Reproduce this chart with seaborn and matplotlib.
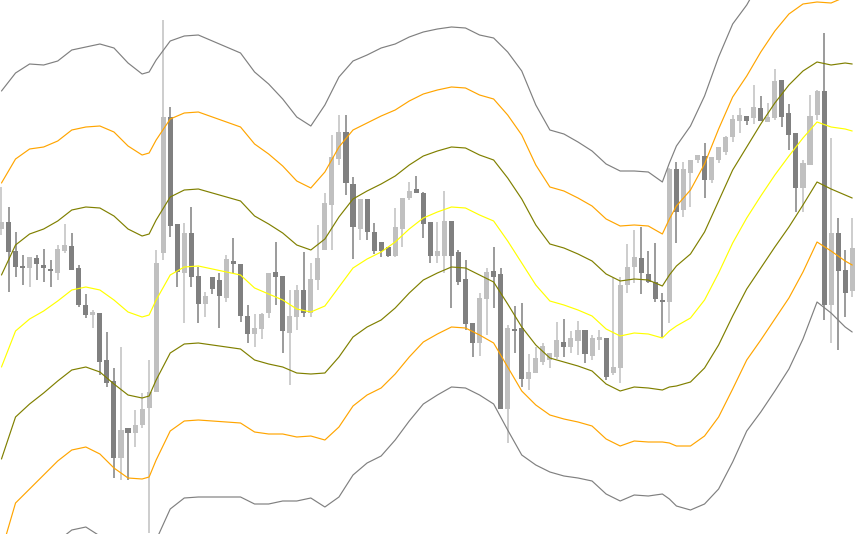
import numpy as np
import pandas as pd
import matplotlib.pyplot as plt
import seaborn as sns

# candle readings (chart units, larger = lower on screen)
opens = [229, 222, 251, 266, 268, 258, 265, 269, 273, 251, 246, 268, 305, 315, 313, 360, 381, 458, 428, 433,
         425, 408, 392, 253, 117, 224, 273, 233, 276, 304, 277, 280, 298, 261, 264, 316, 334, 329, 313, 272,
         276, 333, 317, 290, 313, 280, 250, 205, 159, 132, 184, 229, 199, 232, 242, 247, 256, 229, 198, 189,
         193, 222, 256, 256, 221, 252, 279, 323, 343, 299, 271, 274, 409, 329, 328, 379, 373, 362, 360, 357,
         342, 347, 341, 330, 356, 340, 338, 373, 368, 285, 267, 258, 274, 282, 300, 302, 169, 210, 173, 160,
         156, 180, 160, 152, 137, 121, 116, 118, 108, 122, 118, 80, 113, 133, 188, 165, 115, 91, 305, 233,
         270, 291]
closes = [222, 252, 267, 268, 257, 264, 268, 271, 249, 245, 270, 305, 315, 312, 362, 383, 458, 430, 433, 425,
          409, 392, 263, 117, 226, 272, 233, 277, 304, 296, 289, 296, 259, 264, 316, 334, 328, 314, 273, 277,
          331, 316, 290, 313, 279, 258, 203, 157, 132, 183, 227, 199, 232, 251, 251, 256, 227, 198, 191, 193,
          224, 256, 251, 221, 256, 282, 324, 343, 298, 272, 277, 409, 328, 331, 379, 372, 358, 346, 353, 340,
          347, 338, 330, 354, 338, 337, 377, 367, 285, 267, 257, 273, 282, 299, 302, 169, 212, 169, 160, 155,
          180, 157, 147, 137, 119, 115, 121, 107, 121, 117, 81, 117, 135, 188, 163, 116, 91, 305, 233, 271,
          293, 248]
highs = [187, 207, 232, 255, 257, 255, 249, 260, 245, 224, 233, 265, 294, 310, 313, 332, 368, 347, 428, 410,
         393, 360, 250, 20, 107, 224, 223, 207, 267, 292, 277, 273, 255, 238, 264, 305, 314, 313, 273, 242,
         276, 290, 285, 252, 263, 225, 193, 135, 115, 115, 177, 199, 199, 223, 242, 247, 208, 198, 182, 176,
         192, 222, 222, 191, 221, 250, 260, 323, 293, 268, 247, 268, 325, 306, 303, 354, 347, 343, 353, 322,
         319, 331, 321, 330, 335, 330, 338, 278, 277, 244, 230, 227, 251, 243, 293, 168, 162, 162, 160, 155,
         143, 157, 147, 136, 115, 108, 116, 85, 96, 103, 69, 80, 104, 133, 160, 95, 90, 33, 138, 218,
         250, 218]
lows = [235, 292, 277, 285, 287, 280, 282, 287, 280, 253, 270, 307, 318, 328, 375, 387, 478, 480, 480, 447,
        428, 533, 392, 260, 237, 287, 323, 287, 323, 317, 294, 328, 302, 273, 322, 343, 347, 339, 318, 305,
        353, 385, 330, 317, 317, 290, 250, 250, 165, 195, 259, 240, 240, 254, 257, 257, 257, 247, 200, 193,
        238, 263, 263, 273, 308, 285, 330, 357, 356, 335, 308, 409, 443, 353, 387, 390, 373, 365, 368, 359,
        357, 353, 355, 363, 360, 350, 380, 375, 383, 293, 283, 294, 283, 302, 337, 323, 243, 217, 207, 163,
        198, 183, 163, 155, 142, 133, 125, 124, 121, 122, 120, 127, 150, 212, 212, 165, 120, 320, 343, 350,
        317, 297]

# envelope: middle line and band step, sampled at bar numbers
band_idx = [0, 2, 4, 6, 8, 10, 12, 14, 16, 18, 20, 21, 22, 24, 26, 28, 30, 32, 34, 36, 38, 40, 42, 44, 46,
            48, 50, 52, 54, 56, 58, 60, 62, 64, 66, 68, 70, 72, 74, 76, 78, 80, 82, 84, 86, 88, 90, 92, 94,
            95, 96, 98, 100, 102, 104, 106, 108, 110, 112, 114, 116, 118, 120, 121]
band_mid = [367, 331, 319, 311, 301, 290, 287, 290, 300, 312, 317, 315, 300, 275, 267, 266, 269, 272, 275,
            288, 294, 300, 309, 312, 306, 287, 268, 259, 252, 242, 229, 218, 212, 207, 208, 215, 221, 241,
            263, 285, 301, 305, 310, 316, 329, 336, 333, 334, 338, 331, 326, 318, 300, 273, 243, 218, 196,
            175, 156, 138, 122, 127, 129, 131]
band_step = [92, 86, 85, 82, 80, 80, 80, 82, 84, 83, 81, 81, 80, 78, 77, 77, 76, 75, 74, 72, 70, 67, 64, 62,
             67, 70, 69, 68, 68, 66, 64, 62, 61, 60, 60, 60, 61, 63, 64, 60, 57, 57, 56, 55, 55, 55, 54, 54,
             52, 56, 60, 64, 68, 72, 73, 71, 72, 72, 71, 67, 60, 62, 66, 67]

levels = [-3, -2, -1, 0, 1, 2, 3]
level_colors = {-3: "#808080", -2: "#FFA500", -1: "#808000", 0: "#FFFF00",
                1: "#808000", 2: "#FFA500", 3: "#808080"}

mid = np.array(band_mid, dtype=float)
step = np.array(band_step, dtype=float)
bands = pd.concat([
    pd.DataFrame({"bar": band_idx, "level": k, "value": mid + k * step})
    for k in levels
])

sns.set_style("white")
fig = plt.figure(figsize=(8.55, 5.34), dpi=100)
ax = fig.add_axes([0, 0, 1, 1])

light = "#C0C0C0"
dark = "#808080"
x = np.arange(len(opens))
o = np.array(opens)
c = np.array(closes)
colors = [light if cc < oo else dark for oo, cc in zip(o, c)]

ax.vlines(x, highs, lows, colors=colors, linewidth=1.1, zorder=1)
ax.bar(x, np.abs(c - o), bottom=np.minimum(o, c), width=0.72, color=colors,
       linewidth=0, zorder=2)

sns.lineplot(data=bands, x="bar", y="value", hue="level", palette=level_colors,
             estimator=None, sort=False, linewidth=0.85, legend=False, ax=ax, zorder=3)

ax.set_xlim(-0.21, 121.4)
ax.set_ylim(534, 0)
ax.set_axis_off()

fig.savefig("out.png", dpi=100)
plt.close(fig)
